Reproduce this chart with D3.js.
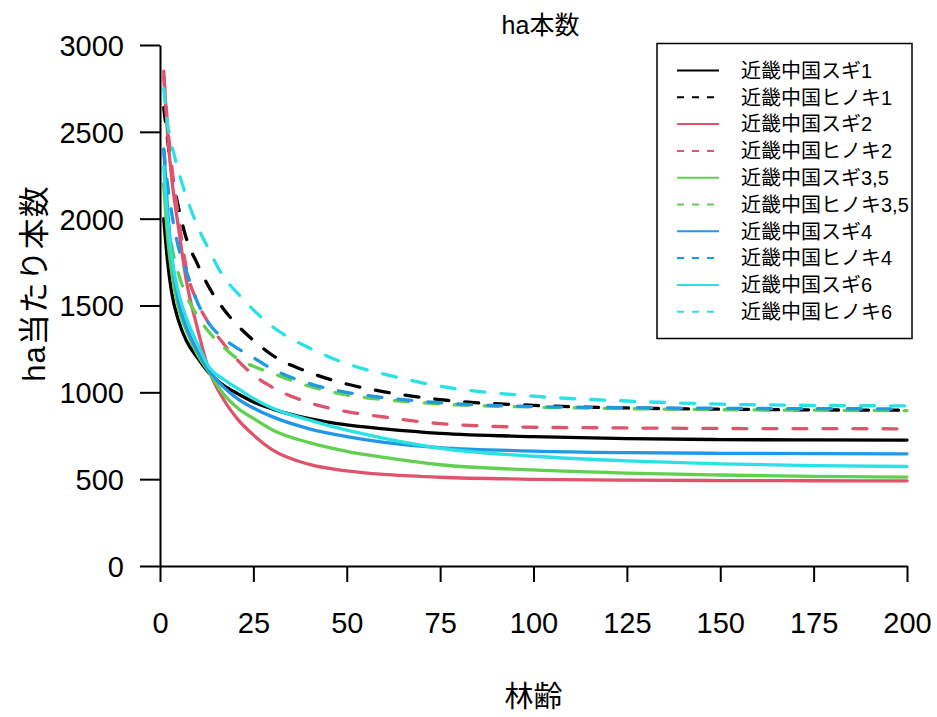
<!DOCTYPE html>
<html><head><meta charset="utf-8">
<script src="https://cdn.jsdelivr.net/npm/d3@7"></script>
<style>
html,body{margin:0;padding:0;background:#fff;}
text{font-family:"Liberation Sans","Noto Sans CJK JP",sans-serif;}
</style></head>
<body>
<svg id="chart" width="937" height="717"></svg>
<script>
// ---- data ----
const ages = [1,2,3,5,7,10,13,17,21,25,30,40,50,60,75,100,125,150,175,200];
const sugi1   = [2000,1760,1590,1410,1300,1200,1115,1040,990,945,905,848,812,790,764,745,733,728,726,725];
const hinoki1 = [2640,2460,2290,2060,1890,1740,1610,1480,1380,1300,1215,1115,1048,1003,958,925,910,903,899,897];
const sugi2   = [2850,2500,2260,1940,1650,1370,1135,960,840,755,670,585,548,527,511,499,494,492,491,490];
const hinoki2 = [2820,2550,2330,2000,1720,1520,1400,1280,1180,1100,1030,940,889,858,820,799,795,792,791,790];
const sugi35  = [2200,1900,1710,1480,1360,1220,1120,990,905,850,785,710,660,625,583,553,535,524,516,512];
const hinoki35= [2200,2010,1860,1680,1560,1440,1350,1260,1190,1150,1110,1035,985,958,933,915,906,900,897,895];
const sugi4   = [2400,2060,1810,1520,1380,1240,1130,1030,960,910,860,790,745,712,682,662,653,649,647,646];
const hinoki4 = [2400,2200,2050,1830,1700,1520,1400,1310,1250,1200,1135,1050,1000,970,940,918,912,908,906,905];
const sugi6   = [2300,2010,1800,1570,1430,1280,1150,1075,1020,965,910,840,782,735,678,632,605,588,578,573];
const hinoki6 = [2750,2550,2440,2270,2130,1960,1825,1665,1565,1475,1380,1255,1165,1105,1035,978,950,932,925,922];
const seriesNames = ["近畿中国スギ1","近畿中国ヒノキ1","近畿中国スギ2","近畿中国ヒノキ2","近畿中国スギ3,5","近畿中国ヒノキ3,5","近畿中国スギ4","近畿中国ヒノキ4","近畿中国スギ6","近畿中国ヒノキ6"];
const seriesValues = [sugi1,hinoki1,sugi2,hinoki2,sugi35,hinoki35,sugi4,hinoki4,sugi6,hinoki6];
const seriesColors = ["#000000","#000000","#DF536B","#DF536B","#61D04F","#61D04F","#2297E6","#2297E6","#28E2E5","#28E2E5"];
const seriesDashed = [false,true,false,true,false,true,false,true,false,true];
const xTicks = [0,25,50,75,100,125,150,175,200];
const yTicks = [0,500,1000,1500,2000,2500,3000];
const titleText = "ha本数", xLabel = "林齢", yLabel = "ha当たり本数";

// ---- layout ----
const svg = d3.select("#chart");
const L = 160, R = 907, T = 45, B = 566;
const x = d3.scaleLinear().domain([0,200]).range([L,R]);
const y = d3.scaleLinear().domain([0,3000]).range([B,T]);

const line = d3.line().x(d=>x(d[0])).y(d=>y(d[1])).curve(d3.curveMonotoneX);
seriesValues.forEach((vals,i)=>{
  svg.append("path")
    .datum(ages.map((a,j)=>[a,vals[j]]))
    .attr("d",line).attr("fill","none")
    .attr("stroke",seriesColors[i]).attr("stroke-width",3.3)
    .attr("stroke-linecap","round").attr("stroke-linejoin","round")
    .attr("stroke-dasharray",seriesDashed[i]?"14,16":null);
});

// axes
const xAxis = svg.append("g").attr("transform",`translate(0,${B})`)
  .call(d3.axisBottom(x).tickValues(xTicks).tickFormat(d3.format("d")).tickSize(16).tickSizeOuter(0).tickPadding(30));
const yAxis = svg.append("g").attr("transform",`translate(${L},0)`)
  .call(d3.axisLeft(y).tickValues(yTicks).tickFormat(d3.format("d")).tickSize(20).tickSizeOuter(0).tickPadding(16));
[xAxis,yAxis].forEach(g=>{
  g.select(".domain").attr("stroke","#000").attr("stroke-width",2);
  g.selectAll(".tick line").attr("stroke","#000").attr("stroke-width",2);
  g.selectAll(".tick text").attr("fill","#000").attr("font-size",29)
    .attr("font-family","Liberation Sans, Arial, sans-serif");
});
xAxis.selectAll(".tick text").attr("dy","0.71em");
yAxis.selectAll(".tick text").attr("dy","0.36em");

// title and labels
svg.append("text").attr("x",(L+R)/2+7).attr("y",34).attr("text-anchor","middle")
  .attr("font-size",25).text(titleText);
svg.append("text").attr("x",(L+R)/2).attr("y",707).attr("text-anchor","middle")
  .attr("font-size",29).text(xLabel);
svg.append("text").attr("transform",`translate(45,${(T+B)/2-22}) rotate(-90)`)
  .attr("text-anchor","middle").attr("font-size",31).attr("letter-spacing",1).text(yLabel);

// legend
const lg = svg.append("g");
lg.append("rect").attr("x",657).attr("y",43.5).attr("width",255).attr("height",295)
  .attr("fill","#fff").attr("stroke","#000").attr("stroke-width",1.5);
seriesNames.forEach((n,i)=>{
  const yy = 70.5 + i*26.8;
  lg.append("line").attr("x1",677).attr("x2",719).attr("y1",yy).attr("y2",yy)
    .attr("stroke",seriesColors[i]).attr("stroke-width",2)
    .attr("stroke-dasharray",seriesDashed[i]?"7,8":null);
  lg.append("text").attr("x",741).attr("y",yy).attr("dy","0.36em")
    .attr("font-size",20).attr("fill","#000").text(n);
});
</script>
</body></html>
